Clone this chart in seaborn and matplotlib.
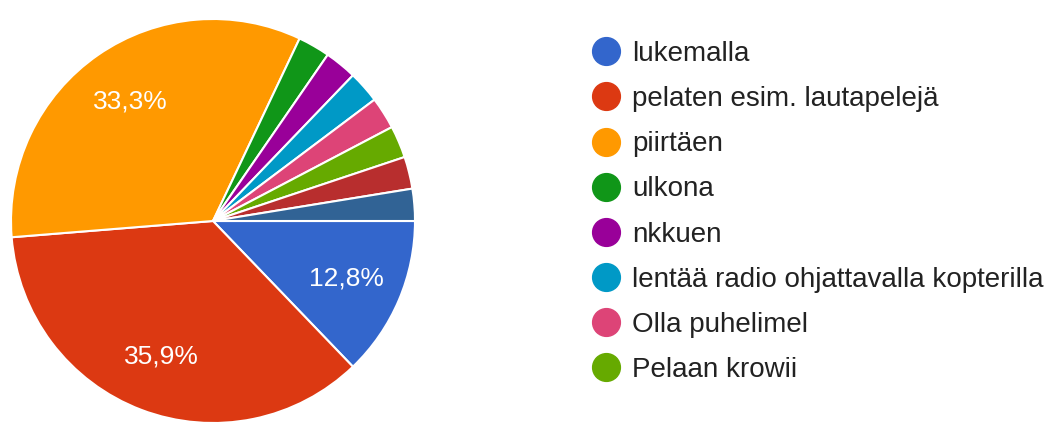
import matplotlib
matplotlib.use("Agg")
import matplotlib.pyplot as plt
from matplotlib.lines import Line2D
import seaborn as sns

labels = ["lukemalla", "pelaten esim. lautapelejä", "piirtäen", "ulkona", "nkkuen",
          "lentää radio ohjattavalla kopterilla", "Olla puhelimel", "Pelaan krowii",
          "muu 1", "muu 2"]
counts = [5, 14, 13, 1, 1, 1, 1, 1, 1, 1]
colors = ["#3366cc", "#dc3912", "#ff9900", "#109618", "#990099",
          "#0099c6", "#dd4477", "#66aa00", "#b82e2e", "#316395"]
legend_count = 8

sns.set_theme(style="white")
plt.rcParams['font.family'] = ['Liberation Sans', 'DejaVu Sans']

W, H = 1046, 422
fig = plt.figure(figsize=(W / 100, H / 100), dpi=100)
cx, cy, R = 213, 221, 202
ax = fig.add_axes([(cx - R) / W, (H - cy - R) / H, 2 * R / W, 2 * R / H])

def fmt(p):
    return (f"{p:.1f}%".replace(".", ",")) if p > 5 else ""

wedges, texts, autotexts = ax.pie(
    counts, colors=colors, startangle=0, counterclock=False, radius=1,
    autopct=fmt, pctdistance=0.72,
    wedgeprops=dict(edgecolor="white", linewidth=1.5),
    textprops=dict(color="white", fontsize=19))
ax.set_xlim(-1, 1)
ax.set_ylim(-1, 1)
ax.axis("off")

handles = [Line2D([0], [0], marker="o", linestyle="none", markersize=20,
                  markerfacecolor=c, markeredgecolor=c) for c in colors[:legend_count]]
leg = fig.legend(handles, labels[:legend_count], loc="upper left",
                 bbox_to_anchor=(592 / W, 1 - 41 / H), frameon=False,
                 fontsize=20, labelspacing=0.69, handletextpad=0.44,
                 handlelength=1.0, borderaxespad=0, borderpad=0)
for t in leg.get_texts():
    t.set_color("#222222")

fig.savefig("out.png", dpi=100)
